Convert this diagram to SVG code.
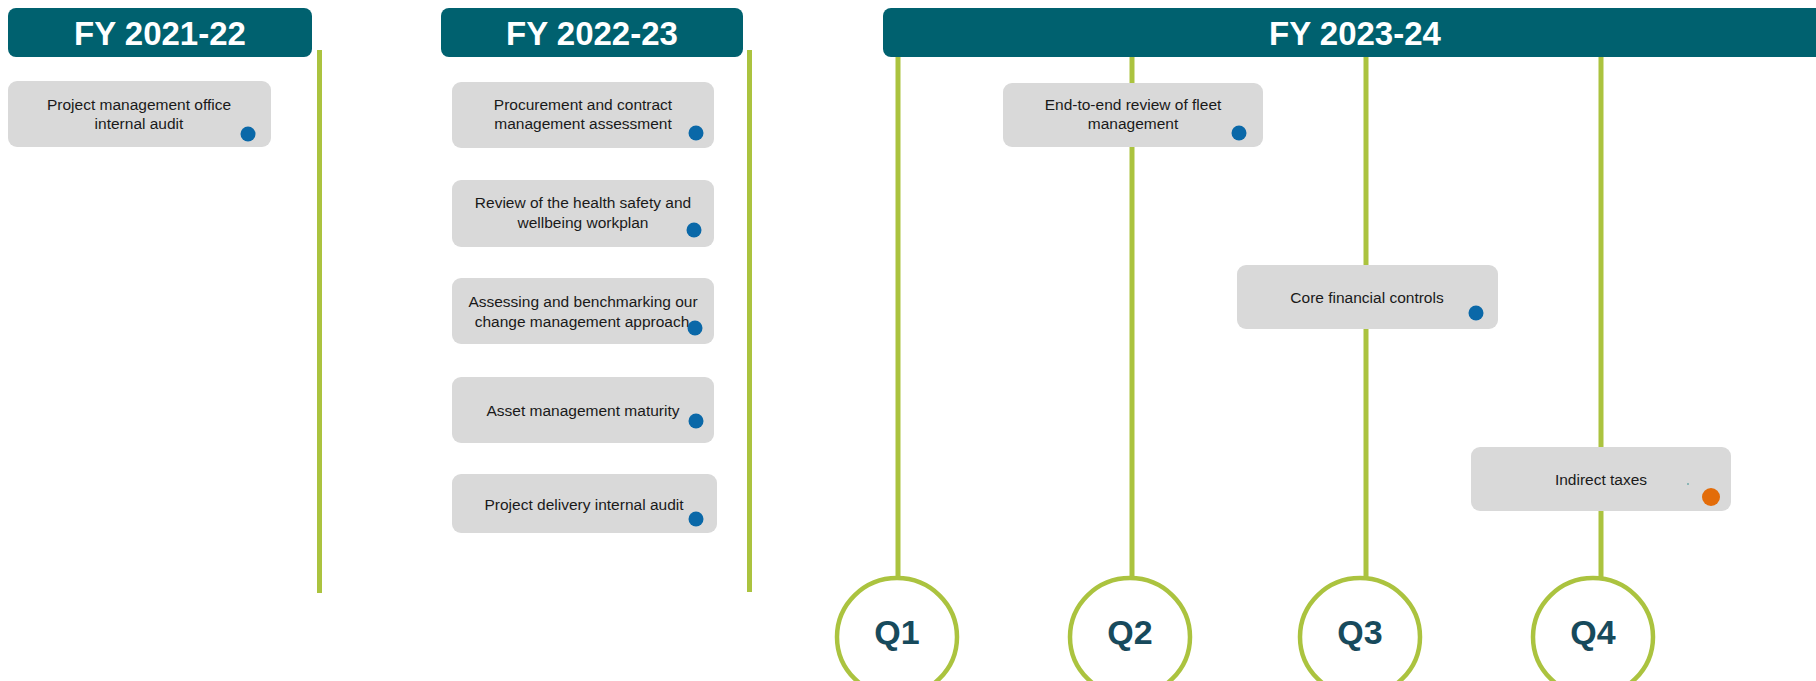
<svg xmlns="http://www.w3.org/2000/svg" width="1816" height="681" viewBox="0 0 1816 681">
<style>
.hdr{fill:#00616f}
.hdrt{font-family:"Liberation Sans",Arial,sans-serif;font-weight:bold;font-size:33px;fill:#ffffff;text-anchor:middle}
.card{fill:#d9d9d9}
.ct{font-family:"Liberation Sans",Arial,sans-serif;font-size:15.5px;fill:#1a1a1a;text-anchor:middle}
.dot{fill:#0a68a8}
.gl{stroke:#abc33f;stroke-width:5;fill:none}
.q{fill:#ffffff;stroke:#abc33f;stroke-width:4.5}
.qt{font-family:"Liberation Sans",Arial,sans-serif;font-weight:bold;font-size:34px;fill:#174a5c;text-anchor:middle}
</style>
<rect width="1816" height="681" fill="#ffffff"/>
<g id="connectors">
<line class="gl" x1="319.5" y1="50" x2="319.5" y2="593"/>
<line class="gl" x1="749.5" y1="50" x2="749.5" y2="592"/>
<line class="gl" x1="898" y1="57" x2="898" y2="578"/>
<line class="gl" x1="1132" y1="57" x2="1132" y2="83"/>
<line class="gl" x1="1132" y1="147" x2="1132" y2="578"/>
<line class="gl" x1="1366" y1="57" x2="1366" y2="265"/>
<line class="gl" x1="1366" y1="329" x2="1366" y2="578"/>
<line class="gl" x1="1601" y1="57" x2="1601" y2="447"/>
<line class="gl" x1="1601" y1="511" x2="1601" y2="578"/>
</g>
<g id="hdr1"><rect class="hdr" x="8" y="8" width="304" height="49" rx="8"/><text class="hdrt" x="160" y="45">FY 2021-22</text></g>
<g id="hdr2"><rect class="hdr" x="441" y="8" width="302" height="49" rx="8"/><text class="hdrt" x="592" y="45">FY 2022-23</text></g>
<g id="hdr3"><rect class="hdr" x="883" y="8" width="960" height="49" rx="8"/><text class="hdrt" x="1355" y="45">FY 2023-24</text></g>
<g id="card-pmo"><rect class="card" x="8" y="81" width="263" height="66" rx="9"/><text class="ct" x="139" y="110">Project management office</text><text class="ct" x="139" y="129">internal audit</text><circle class="dot" cx="248" cy="134" r="7.5"/></g>
<g id="card-procurement"><rect class="card" x="452" y="82" width="262" height="66" rx="9"/><text class="ct" x="583" y="110">Procurement and contract</text><text class="ct" x="583" y="129">management assessment</text><circle class="dot" cx="696" cy="133" r="7.5"/></g>
<g id="card-health"><rect class="card" x="452" y="180" width="262" height="67" rx="9"/><text class="ct" x="583" y="208">Review of the health safety and</text><text class="ct" x="583" y="228">wellbeing workplan</text><circle class="dot" cx="694" cy="230" r="7.5"/></g>
<g id="card-change"><rect class="card" x="452" y="278" width="262" height="66" rx="9"/><text class="ct" x="583" y="307">Assessing and benchmarking our</text><text class="ct" x="582" y="327">change management approach</text><circle class="dot" cx="695" cy="328" r="7.5"/></g>
<g id="card-asset"><rect class="card" x="452" y="377" width="262" height="66" rx="9"/><text class="ct" x="583" y="416">Asset management maturity</text><circle class="dot" cx="696" cy="421" r="7.5"/></g>
<g id="card-delivery"><rect class="card" x="452" y="474" width="265" height="59" rx="9"/><text class="ct" x="584" y="510">Project delivery internal audit</text><circle class="dot" cx="696" cy="519" r="7.5"/></g>
<g id="card-fleet"><rect class="card" x="1003" y="83" width="260" height="64" rx="9"/><text class="ct" x="1133" y="110">End-to-end review of fleet</text><text class="ct" x="1133" y="129">management</text><circle class="dot" cx="1239" cy="133" r="7.5"/></g>
<g id="card-core"><rect class="card" x="1237" y="265" width="261" height="64" rx="9"/><text class="ct" x="1367" y="303">Core financial controls</text><circle class="dot" cx="1476" cy="313" r="7.5"/></g>
<g id="card-taxes"><rect class="card" x="1471" y="447" width="260" height="64" rx="9"/><text class="ct" x="1601" y="485">Indirect taxes</text><circle cx="1688" cy="484" r="0.8" fill="#2a8a8a"/><circle cx="1711" cy="497" r="9" fill="#e36c09"/></g>
<g id="q1"><ellipse class="q" cx="897" cy="637" rx="60" ry="59"/><text class="qt" x="897" y="644">Q1</text></g>
<g id="q2"><ellipse class="q" cx="1130" cy="637" rx="60" ry="59"/><text class="qt" x="1130" y="644">Q2</text></g>
<g id="q3"><ellipse class="q" cx="1360" cy="637" rx="60" ry="59"/><text class="qt" x="1360" y="644">Q3</text></g>
<g id="q4"><ellipse class="q" cx="1593" cy="637" rx="60" ry="59"/><text class="qt" x="1593" y="644">Q4</text></g>
</svg>
